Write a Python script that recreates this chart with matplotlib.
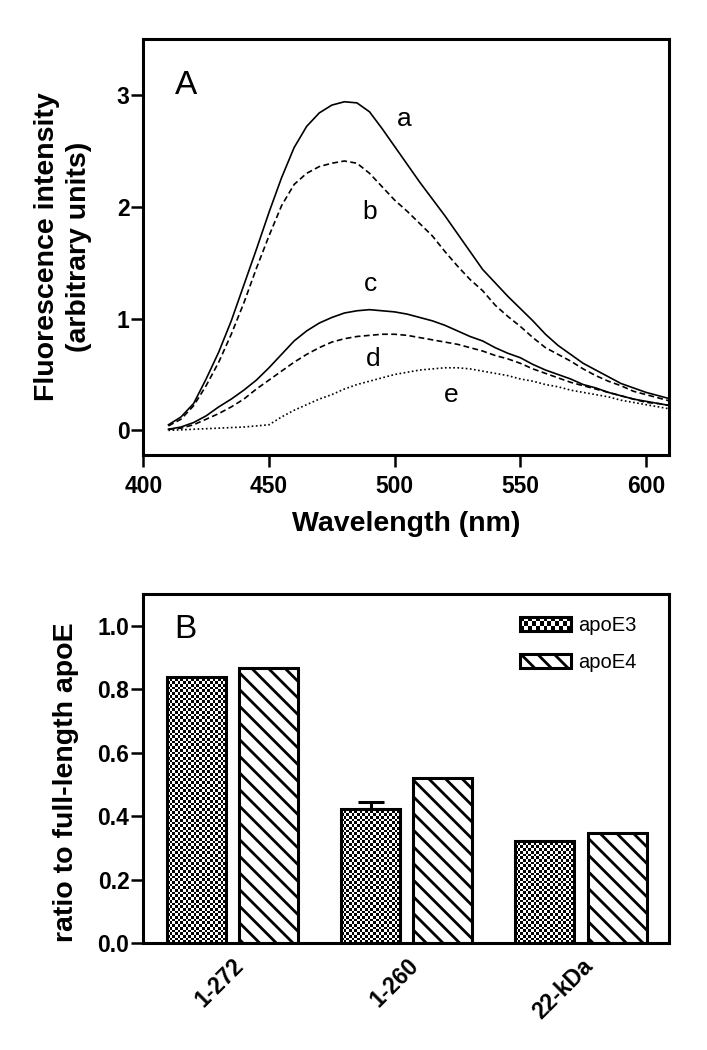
import numpy as np
import matplotlib
matplotlib.use('Agg')
import matplotlib.pyplot as plt
from matplotlib.patches import Patch, Rectangle
from matplotlib.legend_handler import HandlerBase
from matplotlib.image import BboxImage
from matplotlib.transforms import Bbox, TransformedBbox

plt.rcParams['font.family'] = ['Liberation Sans', 'DejaVu Sans']
plt.rcParams['hatch.linewidth'] = 2.0
plt.rcParams['hatch.color'] = 'black'

# ---- panel A: fluorescence emission spectra ----
wavelength = list(range(410, 615, 5))
curve_a = [0.05, 0.12, 0.24, 0.46, 0.70, 0.98, 1.30, 1.62, 1.95, 2.26, 2.53,
           2.72, 2.84, 2.91, 2.94, 2.93, 2.85, 2.70, 2.54, 2.38, 2.22, 2.07,
           1.92, 1.76, 1.60, 1.44, 1.32, 1.20, 1.09, 0.98, 0.86, 0.76, 0.68,
           0.60, 0.54, 0.48, 0.42, 0.38, 0.34, 0.31, 0.28]
curve_b = [0.04, 0.10, 0.22, 0.40, 0.61, 0.86, 1.14, 1.45, 1.74, 2.01, 2.20,
           2.30, 2.36, 2.39, 2.41, 2.39, 2.30, 2.18, 2.06, 1.96, 1.85, 1.74,
           1.60, 1.47, 1.35, 1.25, 1.12, 1.02, 0.93, 0.83, 0.74, 0.68, 0.62,
           0.55, 0.49, 0.44, 0.40, 0.35, 0.32, 0.29, 0.26]
curve_c = [0.01, 0.03, 0.07, 0.13, 0.21, 0.28, 0.36, 0.45, 0.56, 0.68, 0.80,
           0.89, 0.96, 1.01, 1.05, 1.07, 1.08, 1.07, 1.06, 1.04, 1.01, 0.98,
           0.94, 0.89, 0.84, 0.80, 0.74, 0.69, 0.65, 0.59, 0.54, 0.50, 0.46,
           0.41, 0.38, 0.34, 0.31, 0.28, 0.26, 0.24, 0.22]
curve_d = [0.01, 0.02, 0.05, 0.10, 0.15, 0.21, 0.28, 0.37, 0.45, 0.53, 0.61,
           0.68, 0.74, 0.79, 0.82, 0.84, 0.85, 0.86, 0.86, 0.85, 0.83, 0.81,
           0.79, 0.77, 0.74, 0.71, 0.67, 0.64, 0.60, 0.55, 0.51, 0.47, 0.43,
           0.40, 0.37, 0.34, 0.31, 0.28, 0.25, 0.24, 0.22]
curve_e = [0.00, 0.005, 0.01, 0.015, 0.02, 0.025, 0.03, 0.04, 0.05, 0.12, 0.18,
           0.23, 0.28, 0.32, 0.37, 0.41, 0.44, 0.47, 0.50, 0.52, 0.54, 0.55,
           0.56, 0.56, 0.55, 0.53, 0.51, 0.49, 0.46, 0.44, 0.41, 0.39, 0.36,
           0.34, 0.32, 0.30, 0.27, 0.25, 0.23, 0.21, 0.19]
curve_names = ['a', 'b', 'c', 'd', 'e']

# ---- panel B: ratio to full-length apoE ----
fragments = ['1-272', '1-260', '22-kDa']
apoe3 = [0.839, 0.423, 0.323]
apoe4 = [0.867, 0.521, 0.346]
apoe3_err = [0.0, 0.023, 0.0]

CELL = 2.7  # checker square size in pixels


def checker(nx, ny):
    c = (np.add.outer(np.arange(ny), np.arange(nx)) % 2).astype(float)
    return np.dstack([c, c, c])


class CheckerHandler(HandlerBase):
    """legend patch drawn with the same checker texture as the bars"""
    def create_artists(self, legend, orig_handle, xdescent, ydescent,
                       width, height, fontsize, trans):
        bb = Bbox.from_bounds(-xdescent, -ydescent, width, height)
        img = BboxImage(TransformedBbox(bb, trans), interpolation='nearest')
        img.set_data(checker(int(width / CELL), max(1, int(height / CELL))))
        rect = Rectangle((-xdescent, -ydescent), width, height,
                         facecolor='none', edgecolor='black', lw=2.2,
                         transform=trans)
        return [img, rect]


fig = plt.figure(figsize=(7.07, 10.5), dpi=100)

# ---------- A ----------
ax1 = fig.add_axes([0.2027, 0.5667, 0.743, 0.396])
styles = ['-', (0, (3.5, 2.0)), '-', (0, (3.5, 2.0)), (0, (1.0, 1.5))]
for y, ls in zip([curve_a, curve_b, curve_c, curve_d, curve_e], styles):
    ax1.plot(wavelength, y, color='black', lw=1.2, linestyle=ls)

label_pos = [(503.8, 2.72), (490.2, 1.89), (490.4, 1.25), (491.5, 0.575), (522.4, 0.25)]
for name, (lx, ly) in zip(curve_names, label_pos):
    ax1.text(lx, ly, name, fontsize=19, ha='center', va='baseline')
ax1.text(417, 3.01, 'A', fontsize=24, ha='center', va='baseline')

ax1.set_xlim(400, 609)
ax1.set_ylim(-0.22, 3.5)
ax1.set_xticks([400, 450, 500, 550, 600])
ax1.set_yticks([0, 1, 2, 3])
ax1.set_xlabel('Wavelength (nm)', fontsize=20.5, fontweight='bold', labelpad=9)
ax1.set_ylabel('Fluorescence intensity\n(arbitrary units)', fontsize=20.5,
               fontweight='bold', linespacing=1.3)
ax1.yaxis.set_label_coords(-0.098, 0.5)

# ---------- B ----------
ax2 = fig.add_axes([0.2027, 0.1016, 0.743, 0.3327])
x = np.arange(len(fragments))
off, w = 0.207, 0.338
ax2.set_xlim(-0.51, 2.502)
ax2.set_ylim(0, 1.1)

bars3 = ax2.bar(x - off, apoe3, w, facecolor='none', edgecolor='black', lw=2.2, zorder=2)
bars4 = ax2.bar(x + off, apoe4, w, facecolor='white', edgecolor='black', lw=2.2,
                hatch='\\\\', zorder=2)

# checker texture for apoE3 bars
for bar in bars3:
    bb = bar.get_window_extent()
    nx = max(1, int(round(bb.width / CELL)))
    ny = max(1, int(round(bb.height / CELL)))
    ax2.imshow(checker(nx, ny), interpolation='nearest', aspect='auto', zorder=1,
               extent=(bar.get_x(), bar.get_x() + bar.get_width(), 0, bar.get_height()))
ax2.set_xlim(-0.51, 2.502)
ax2.set_ylim(0, 1.1)

err = np.array(apoe3_err)
m = err > 0
ax2.errorbar((x - off)[m], np.array(apoe3)[m], yerr=[np.zeros(m.sum()), err[m]],
             fmt='none', ecolor='black', elinewidth=2.2, capsize=9.7, capthick=2.2,
             zorder=3)

ax2.text(-0.27, 0.96, 'B', fontsize=24, ha='center', va='baseline')

h3 = Patch(facecolor='none', edgecolor='black', label='apoE3')
h4 = Patch(facecolor='white', edgecolor='black', lw=2.2, hatch='\\\\', label='apoE4')
ax2.legend(handles=[h3, h4], handler_map={h3: CheckerHandler()}, loc='upper left',
           bbox_to_anchor=(0.718, 0.937), frameon=False, fontsize=14.5,
           handlelength=2.5, handleheight=0.72, handletextpad=0.35,
           labelspacing=0.9, borderpad=0, borderaxespad=0)

ax2.set_yticks([0.0, 0.2, 0.4, 0.6, 0.8, 1.0])
ax2.set_yticklabels(['0.0', '0.2', '0.4', '0.6', '0.8', '1.0'])
ax2.set_xticks(x)
ax2.set_xticklabels(fragments, rotation=45, ha='right', rotation_mode='anchor')
ax2.set_ylabel('ratio to full-length apoE', fontsize=20.5, fontweight='bold')
ax2.yaxis.set_label_coords(-0.122, 0.46)

for ax in (ax1, ax2):
    for s in ax.spines.values():
        s.set_linewidth(2.2)
    ax.tick_params(direction='out', length=8.5, width=1.8, labelsize=16.5, pad=1.5,
                   top=False, right=False)
    for lab in ax.get_xticklabels() + ax.get_yticklabels():
        lab.set_fontweight('bold')
ax1.tick_params(axis='x', pad=6)
ax2.tick_params(axis='x', length=0, pad=8)

fig.savefig('out.png', dpi=100)
